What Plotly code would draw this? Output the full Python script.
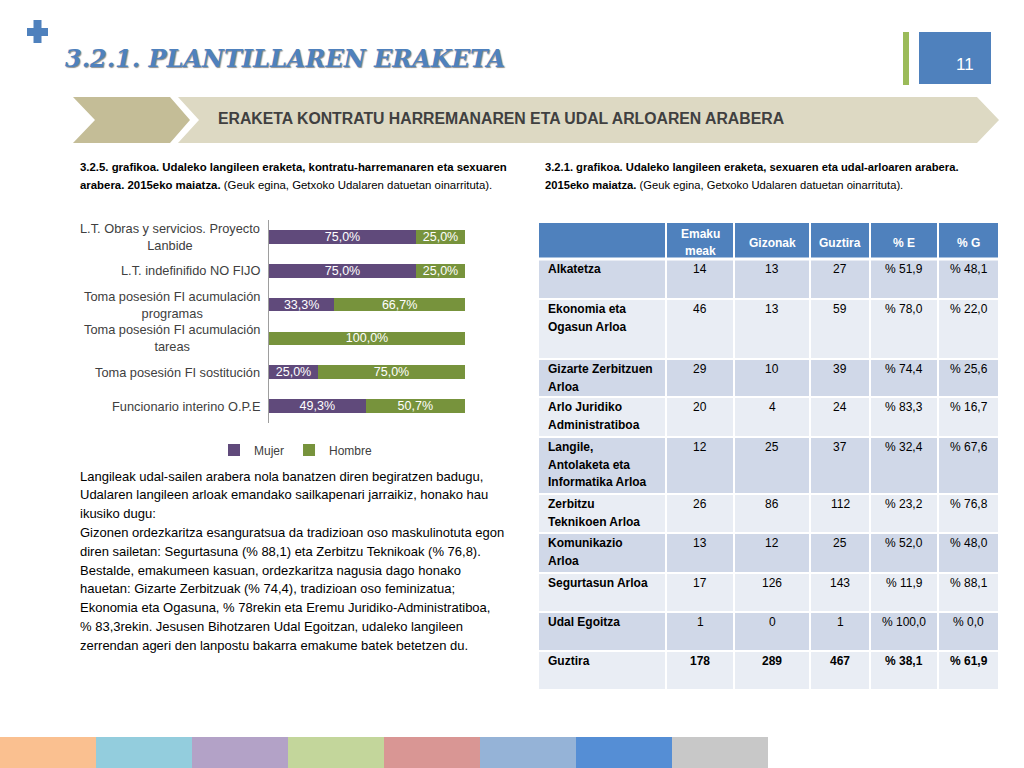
import plotly.graph_objects as go

W, H = 1024, 768

# ---------------- data: bar chart ----------------
categories = [
    "L.T. Obras y servicios. Proyecto<br>Lanbide",
    "L.T. indefinifido NO FIJO",
    "Toma posesión FI acumulación<br>programas",
    "Toma posesión FI acumulación<br>tareas",
    "Toma posesión FI sostitución",
    "Funcionario interino O.P.E",
]
mujer = [75.0, 75.0, 33.3, 0.0, 25.0, 49.3]
hombre = [25.0, 25.0, 66.7, 100.0, 75.0, 50.7]
series_names = ["Mujer", "Hombre"]

# ---------------- data: table ----------------
table_header = ["", "Emaku<br>meak", "Gizonak", "Guztira", "% E", "% G"]
areas = [
    "Alkatetza",
    "Ekonomia eta<br>Ogasun Arloa",
    "Gizarte Zerbitzuen<br>Arloa",
    "Arlo Juridiko<br>Administratiboa",
    "Langile,<br>Antolaketa eta<br>Informatika Arloa",
    "Zerbitzu<br>Teknikoen Arloa",
    "Komunikazio<br>Arloa",
    "Segurtasun Arloa",
    "Udal Egoitza",
    "Guztira",
]
emakumeak = [14, 46, 29, 20, 12, 26, 13, 17, 1, 178]
gizonak = [13, 13, 10, 4, 25, 86, 12, 126, 0, 289]
guztira = [27, 59, 39, 24, 37, 112, 25, 143, 1, 467]
pct_e = [51.9, 78.0, 74.4, 83.3, 32.4, 23.2, 52.0, 11.9, 100.0, 38.1]
pct_g = [48.1, 22.0, 25.6, 16.7, 67.6, 76.8, 48.0, 88.1, 0.0, 61.9]

# ---------------- texts ----------------
title_text = "3.2.1. PLANTILLAREN ERAKETA"
banner_text = "ERAKETA KONTRATU HARREMANAREN ETA UDAL ARLOAREN ARABERA"
page_number = "11"
caption_left = [
    "<b>3.2.5. grafikoa. Udaleko langileen eraketa, kontratu-harremanaren eta sexuaren</b>",
    "<b>arabera. 2015eko maiatza.</b> (Geuk egina, Getxoko Udalaren datuetan oinarrituta).",
]
caption_right = [
    "<b>3.2.1. grafikoa. Udaleko langileen eraketa, sexuaren eta udal-arloaren arabera.</b>",
    "<b>2015eko maiatza.</b> (Geuk egina, Getxoko Udalaren datuetan oinarrituta).",
]
body_lines = [
    "Langileak udal-sailen arabera nola banatzen diren begiratzen badugu,",
    "Udalaren langileen arloak emandako sailkapenari jarraikiz, honako hau",
    "ikusiko dugu:",
    "Gizonen ordezkaritza esanguratsua da tradizioan oso maskulinotuta egon",
    "diren sailetan: Segurtasuna (% 88,1) eta Zerbitzu Teknikoak (% 76,8).",
    "Bestalde, emakumeen kasuan, ordezkaritza nagusia dago honako",
    "hauetan: Gizarte Zerbitzuak (% 74,4), tradizioan oso feminizatua;",
    "Ekonomia eta Ogasuna, % 78rekin eta Eremu Juridiko-Administratiboa,",
    "% 83,3rekin. Jesusen Bihotzaren Udal Egoitzan, udaleko langileen",
    "zerrendan ageri den lanpostu bakarra emakume batek betetzen du.",
]

# ---------------- styles ----------------
C_MUJER = "#604A7B"
C_HOMBRE = "#77933C"
C_BLUE = "#4F81BD"
C_ROW1 = "#D0D8E8"
C_ROW2 = "#E9EDF4"
FONT = "Liberation Sans, Arial, sans-serif"
NARROW = "Liberation Sans Narrow, Arial Narrow, Liberation Sans, sans-serif"
COL_W = [128, 68, 76, 60, 68, 61]
ROW_H = [37, 40, 60, 38, 40, 57, 39, 40, 39, 39, 39]


def px(x):
    return x / W


def py(y):
    return 1 - y / H


def pct_label(v):
    return ("%.1f%%" % v).replace(".", ",") if v > 0 else ""


def pct_cell(v):
    return "% " + ("%.1f" % v).replace(".", ",")


fig = go.Figure()

# ---------------- bar chart ----------------
for name, vals, col in [(series_names[0], mujer, C_MUJER), (series_names[1], hombre, C_HOMBRE)]:
    fig.add_trace(go.Bar(
        name=name, orientation="h", x=vals, y=list(range(len(categories))),
        marker=dict(color=col, line=dict(width=0)),
        text=[pct_label(v) for v in vals], textposition="inside",
        insidetextanchor="middle", textangle=0, constraintext="none",
        textfont=dict(family=FONT, size=12.5, color="white"),
        hoverinfo="skip", xaxis="x", yaxis="y",
    ))

# ---------------- table as heatmap ----------------
x_edges = [0]
for w in COL_W:
    x_edges.append(x_edges[-1] + w)
y_edges = [0]
for h in ROW_H:
    y_edges.append(y_edges[-1] + h)
z = []
for r in range(len(ROW_H)):
    v = 0 if r == 0 else (1 if r % 2 == 1 else 2)
    z.append([v] * len(COL_W))
fig.add_trace(go.Heatmap(
    x=x_edges, y=y_edges, z=z, zmin=0, zmax=2,
    colorscale=[[0, C_BLUE], [0.5, C_ROW1], [1, C_ROW2]],
    showscale=False, xgap=2, ygap=2, hoverinfo="skip",
    xaxis="x2", yaxis="y2", showlegend=False,
))

annotations = []

# category labels of the bar chart
for i, cat in enumerate(categories):
    annotations.append(dict(
        x=px(262), xref="paper", y=i, yref="y", text=cat, showarrow=False,
        xanchor="right", yanchor="middle", align="center",
        font=dict(family=FONT, size=12.8, color="#404040"),
    ))

# table header
col_centers = [(x_edges[i] + x_edges[i + 1]) / 2 for i in range(len(COL_W))]
for c, lab in enumerate(table_header):
    lines = lab.split("<br>") if lab else []
    n = len(lines)
    for k, ln in enumerate(lines):
        annotations.append(dict(
            x=col_centers[c], xref="x2", y=ROW_H[0] / 2 + 2 + (k - (n - 1) / 2) * 17, yref="y2",
            text="<b>%s</b>" % ln, showarrow=False, xanchor="center", yanchor="middle",
            font=dict(family=FONT, size=12, color="white"),
        ))

# table body
for r in range(len(areas)):
    top = y_edges[r + 1]
    last = r == len(areas) - 1
    for k, ln in enumerate(areas[r].split("<br>")):
        annotations.append(dict(
            x=x_edges[0] + 8, xref="x2", y=top + 10 + k * 17.5, yref="y2",
            text="<b>%s</b>" % ln, showarrow=False, xanchor="left", yanchor="middle",
            font=dict(family=FONT, size=12, color="black"),
        ))
    vals = [str(emakumeak[r]), str(gizonak[r]), str(guztira[r]), pct_cell(pct_e[r]), pct_cell(pct_g[r])]
    for c, v in enumerate(vals):
        annotations.append(dict(
            x=col_centers[c + 1], xref="x2", y=top + 10, yref="y2",
            text=("<b>%s</b>" % v) if last else v, showarrow=False,
            xanchor="center", yanchor="middle",
            font=dict(family=FONT, size=12, color="black"),
        ))

# title
annotations.append(dict(
    x=px(63), y=py(58), xref="paper", yref="paper", text=title_text, showarrow=False,
    xanchor="left", yanchor="middle",
    font=dict(family="DejaVu Serif, serif", size=24, weight="bold", style="italic", color=C_BLUE,
              shadow="1px 1px 1px rgba(0,0,0,0.45)"),
))
# banner
annotations.append(dict(
    x=px(216), y=py(118), xref="paper", yref="paper", text="<b>%s</b>" % banner_text,
    showarrow=False, xanchor="left", yanchor="middle",
    font=dict(family=FONT, size=15.8, color="#404040"),
))
# page number
annotations.append(dict(
    x=px(965), y=py(64), xref="paper", yref="paper", text=page_number, showarrow=False,
    xanchor="center", yanchor="middle", font=dict(family=FONT, size=17, color="white"),
))
# captions
for k, ln in enumerate(caption_left):
    annotations.append(dict(
        x=px(78), y=py(167 + 18 * k), xref="paper", yref="paper", text=ln, showarrow=False,
        xanchor="left", yanchor="middle", font=dict(family=NARROW, size=11.4, color="black"),
    ))
for k, ln in enumerate(caption_right):
    annotations.append(dict(
        x=px(543), y=py(167 + 18 * k), xref="paper", yref="paper", text=ln, showarrow=False,
        xanchor="left", yanchor="middle", font=dict(family=NARROW, size=11.2, color="black"),
    ))
# body paragraph
for k, ln in enumerate(body_lines):
    annotations.append(dict(
        x=px(78), y=py(476 + 18.8 * k), xref="paper", yref="paper", text=ln, showarrow=False,
        xanchor="left", yanchor="middle", font=dict(family=NARROW, size=13, color="black"),
    ))

# ---------------- decorative shapes ----------------
def path(points):
    s = "M " + " L ".join("%.5f,%.5f" % (px(x), py(y)) for x, y in points) + " Z"
    return s


shapes = [
    # plus sign
    dict(type="rect", xref="paper", yref="paper", x0=px(27), x1=px(48), y0=py(36), y1=py(28),
         fillcolor=C_BLUE, line=dict(width=0)),
    dict(type="rect", xref="paper", yref="paper", x0=px(33.5), x1=px(41.5), y0=py(43), y1=py(20),
         fillcolor=C_BLUE, line=dict(width=0)),
    # green bar + page box
    dict(type="rect", xref="paper", yref="paper", x0=px(903), x1=px(909), y0=py(85), y1=py(32),
         fillcolor="#9BBB59", line=dict(width=0)),
    dict(type="rect", xref="paper", yref="paper", x0=px(919), x1=px(991), y0=py(84), y1=py(32),
         fillcolor=C_BLUE, line=dict(width=0)),
    # banner chevrons
    dict(type="path", xref="paper", yref="paper",
         path=path([(178, 97), (977, 97), (999, 120), (977, 143), (178, 143), (199, 120)]),
         fillcolor="#DDD9C3", line=dict(width=0)),
    dict(type="path", xref="paper", yref="paper",
         path=path([(73, 97), (170, 97), (190, 120), (170, 143), (73, 143), (95, 120)]),
         fillcolor="#C4BD97", line=dict(width=0)),
    # thicker white rule under the table header
    dict(type="line", xref="x2", yref="y2", x0=x_edges[0], x1=x_edges[-1],
         y0=y_edges[1], y1=y_edges[1], line=dict(color="white", width=3)),
]
footer_colors = ["#FAC090", "#93CDDD", "#B3A2C7", "#C3D69B", "#D99694", "#95B3D7", "#558ED5", "#C8C8C8"]
for i, col in enumerate(footer_colors):
    shapes.append(dict(type="rect", xref="paper", yref="paper",
                       x0=px(i * 96), x1=px((i + 1) * 96), y0=0, y1=py(737),
                       fillcolor=col, line=dict(width=0), layer="below"))

fig.update_layout(
    width=W, height=H, margin=dict(l=0, r=0, t=0, b=0),
    paper_bgcolor="white", plot_bgcolor="rgba(0,0,0,0)",
    barmode="stack", bargap=0.6,
    xaxis=dict(domain=[px(269), px(465)], range=[0, 100], showgrid=False, zeroline=False,
               showticklabels=False, showline=False, ticks="", fixedrange=True),
    yaxis=dict(domain=[py(423), py(220)], type="linear", range=[5.5, -0.5], showgrid=False,
               zeroline=False, showticklabels=False, ticks="", showline=True,
               linecolor="#9E9E9E", linewidth=1, fixedrange=True),
    xaxis2=dict(domain=[px(538), px(999)], range=[0, x_edges[-1]], visible=False, fixedrange=True),
    yaxis2=dict(domain=[py(690), py(222)], range=[y_edges[-1], 0], visible=False, fixedrange=True),
    showlegend=True,
    legend=dict(orientation="h", x=px(296), y=py(450), xanchor="center", yanchor="middle",
                font=dict(family=FONT, size=12, color="#404040"), bgcolor="rgba(0,0,0,0)",
                itemwidth=30, traceorder="normal"),
    annotations=annotations,
    shapes=shapes,
    font=dict(family=FONT),
)

fig.write_html(
    "out.html",
    config={"displayModeBar": False},
    post_script="document.body.style.margin='0px';document.body.style.overflow='hidden';",
)
